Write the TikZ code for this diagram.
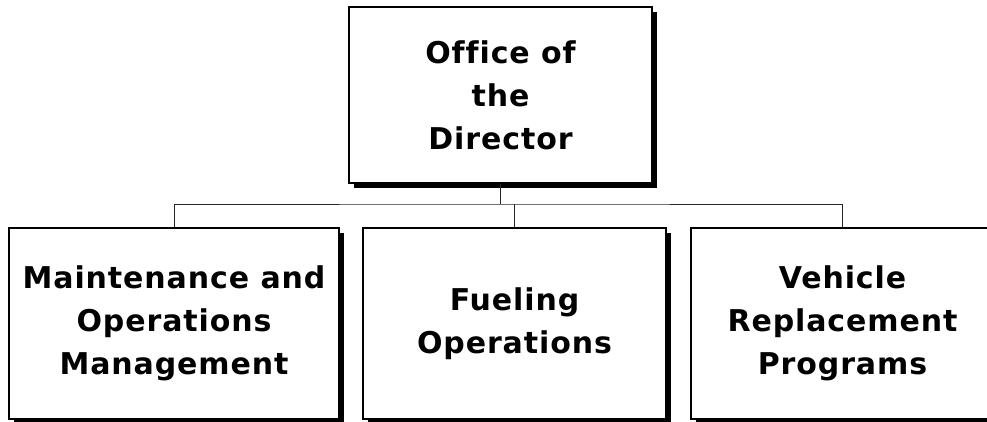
\documentclass[tikz,border=0pt]{standalone}
\usepackage{fontspec}
\setmainfont{DejaVu Sans}[Ligatures=NoCommon, LetterSpace=3]
\usepackage{xcolor}
\usepackage{tikz}
\usetikzlibrary{positioning,shadows}

\begin{document}
\begin{tikzpicture}[x=1pt, y=-1pt,
   every node/.style={font=\bfseries\fontsize{30}{43}\selectfont, align=center},
   unit/.style={draw=black, line width=1.2pt, fill=white, inner sep=0pt,
      minimum width=303pt, minimum height=191pt,
      drop shadow={shadow xshift=5pt, shadow yshift=-5pt, fill=black, opacity=1}},
   link/.style={line width=1pt, black!85}]
   % Page size (always first!)
   \useasboundingbox (0,0) rectangle (987,421);

   % Head of the chart
   \node[unit, minimum height=176pt] (dir) at (500.5,95) {Office of\\the\\Director};

   % Units below it
   \node[unit, minimum width=330pt] (maint) at (174,323.5) {Maintenance and\\Operations\\Management};
   \node[unit] (fuel) at (514.5,323.5) {Fueling\\Operations};
   \node[unit] (vehicle) at (842.5,323.5) {Vehicle\\Replacement\\Programs};

   % Connectors
   \coordinate (bar) at (500.5,204);
   \draw[link] (dir.south) -- (bar);
   \draw[link] (maint.north) |- (bar) -| (vehicle.north);
   \draw[link] (fuel.north) -- (fuel.north |- bar);
\end{tikzpicture}
\end{document}
